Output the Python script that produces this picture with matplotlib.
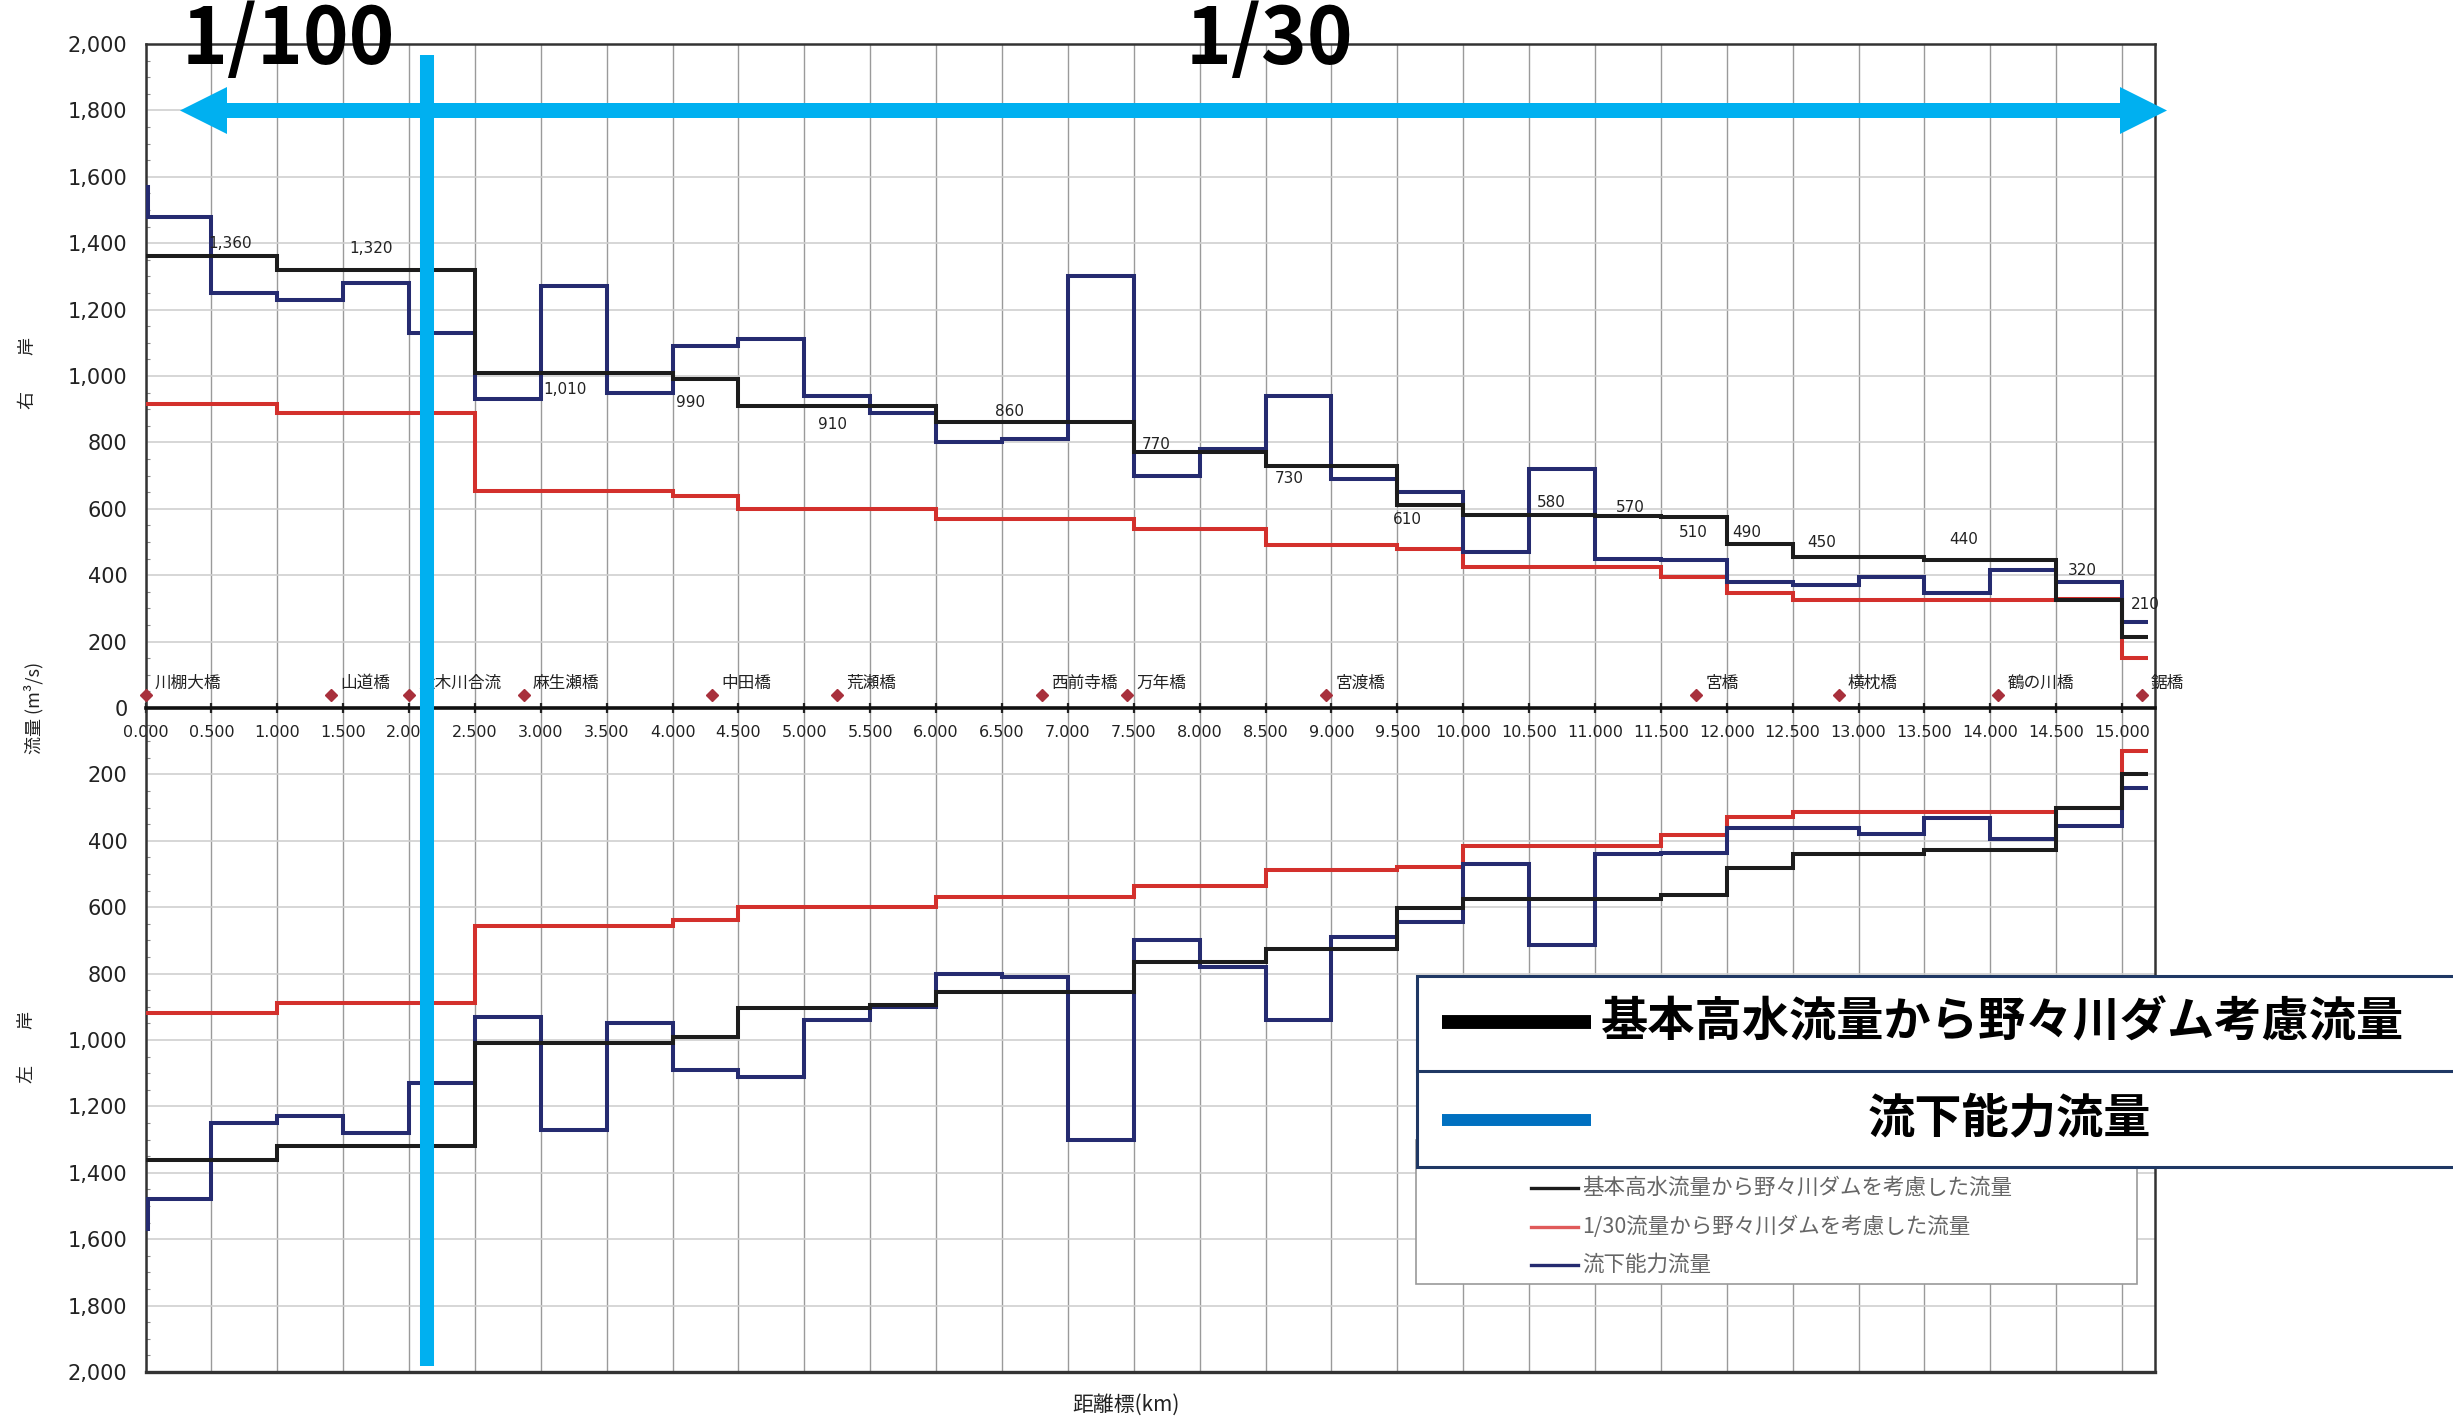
import matplotlib
matplotlib.use("Agg")
import matplotlib.pyplot as plt
import matplotlib.ticker as mticker
from matplotlib.patches import Polygon, Rectangle
from matplotlib.lines import Line2D
from matplotlib.transforms import Affine2D
import numpy as np

W, H, DPI = 2453, 1422, 100
JP = ["Noto Sans CJK JP", "DejaVu Sans"]

# ---------------- data (km edges / discharge m3/s) ----------------
# 右岸 (upper half)
right_black_edges = [0.0, 1.0, 2.5, 4.0, 4.5, 6.0, 7.5, 8.5, 9.5, 10.0, 11.0, 11.5,
                     12.0, 12.5, 13.5, 14.5, 15.0, 15.2]
right_black_q = [1360, 1320, 1010, 990, 910, 860, 770, 730, 610, 580, 578, 575,
                 495, 455, 445, 325, 215]

blue_edges = [0.0, 0.02, 0.5, 1.0, 1.5, 2.0, 2.5, 3.0, 3.5, 4.0, 4.5, 5.0, 5.5, 6.0,
              6.5, 7.0, 7.5, 8.0, 8.5, 9.0, 9.5, 10.0, 10.5, 11.0, 11.5, 12.0, 12.5,
              13.0, 13.5, 14.0, 14.5, 15.0, 15.2]
right_blue_q = [1570, 1480, 1250, 1230, 1280, 1130, 930, 1270, 950, 1090, 1110, 940,
                890, 800, 810, 1300, 700, 780, 940, 690, 650, 470, 720, 450, 445, 380,
                370, 395, 345, 415, 380, 260]

red_edges = [0.0, 1.0, 2.5, 4.0, 4.5, 6.0, 7.5, 8.5, 9.5, 10.0, 11.5, 12.0, 12.5,
             14.5, 15.0, 15.2]
right_red_q = [915, 890, 655, 640, 600, 570, 540, 490, 480, 425, 395, 345, 325, 328, 150]

# 左岸 (lower half)
left_black_edges = [0.0, 1.0, 2.5, 4.0, 4.5, 5.5, 6.0, 7.5, 8.5, 9.5, 10.0, 11.5,
                    12.0, 12.5, 13.5, 14.5, 15.0, 15.2]
left_black_q = [1360, 1320, 1010, 990, 905, 895, 856, 765, 725, 603, 575, 563,
                482, 439, 429, 302, 198]
left_blue_q = [1570, 1480, 1250, 1230, 1280, 1130, 930, 1270, 950, 1090, 1110, 940,
               900, 800, 810, 1300, 700, 780, 940, 690, 645, 470, 715, 440, 437, 362,
               362, 380, 330, 396, 356, 240]
left_red_q = [920, 890, 658, 640, 600, 568, 537, 488, 478, 417, 382, 329, 312, 302, 130]

# black-line value labels (text, km, q)
value_labels = ["1,360", "1,320", "1,010", "990", "910", "860", "770", "730", "610",
                "580", "570", "510", "490", "450", "440", "320", "210"]
value_label_km = [0.64, 1.71, 3.18, 4.14, 5.21, 6.56, 7.67, 8.68, 9.58, 10.67, 11.27,
                  11.75, 12.15, 12.72, 13.80, 14.70, 15.18]
value_label_q = [1398, 1383, 959, 919, 854, 892, 794, 692, 567, 618, 603, 528, 528,
                 498, 508, 413, 313]

# bridges / landmarks
bridge_names = ["川棚大橋", "山道橋", "大木川合流", "麻生瀬橋", "中田橋", "荒瀬橋",
                "西前寺橋", "万年橋", "宮渡橋", "宮橋", "横枕橋", "鶴の川橋", "鋸橋"]
bridge_km = [0.0, 1.41, 2.0, 2.87, 4.30, 5.25, 6.80, 7.45, 8.96, 11.77, 12.85, 14.06, 15.15]

# ---------------- figure ----------------
fig = plt.figure(figsize=(W / DPI, H / DPI), dpi=DPI)
fig.patch.set_facecolor("white")
L, R, T, B = 145.5, 2155, 44, 1372
ax = fig.add_axes([L / W, 1 - B / H, (R - L) / W, (B - T) / H])
ax.set_xlim(0, 15.25)
ax.set_ylim(-2000, 2000)

C_BLACK, C_BLUE, C_RED = "#1c1c1c", "#252b70", "#d3302c"
LW = 2.9
ax.stairs(right_red_q, red_edges, baseline=None, color=C_RED, lw=LW, zorder=3)
ax.stairs(right_blue_q, blue_edges, baseline=None, color=C_BLUE, lw=LW, zorder=4)
ax.stairs(right_black_q, right_black_edges, baseline=None, color=C_BLACK, lw=LW, zorder=5)
ax.stairs(-np.array(left_red_q), red_edges, baseline=None, color=C_RED, lw=LW, zorder=3)
ax.stairs(-np.array(left_blue_q), blue_edges, baseline=None, color=C_BLUE, lw=LW, zorder=4)
ax.stairs(-np.array(left_black_q), left_black_edges, baseline=None, color=C_BLACK, lw=LW, zorder=5)

# grid
ax.xaxis.set_major_locator(mticker.MultipleLocator(0.5))
ax.yaxis.set_major_locator(mticker.MultipleLocator(200))
ax.yaxis.set_minor_locator(mticker.MultipleLocator(50))
ax.grid(axis="x", color="#9a9a9a", lw=1.0, zorder=0)
ax.grid(axis="y", color="#cfcfcf", lw=1.2, zorder=0)
ax.set_axisbelow(True)

# spines
ax.spines["bottom"].set_position(("data", 0))
ax.spines["bottom"].set_linewidth(2.6)
ax.spines["bottom"].set_color("#111111")
for s in ["left", "top", "right"]:
    ax.spines[s].set_linewidth(1.8)
    ax.spines[s].set_color("#333333")
ax.axhline(-2000, color="#333333", lw=2.4, clip_on=False, zorder=6)

ax.xaxis.set_major_formatter(mticker.FuncFormatter(lambda v, p: f"{v:.3f}"))
ax.yaxis.set_major_formatter(mticker.FuncFormatter(lambda v, p: f"{abs(v):,.0f}"))
ax.tick_params(axis="x", which="major", direction="inout", length=7, width=1.6,
               labelsize=11.5, pad=9, colors="#222222")
ax.tick_params(axis="y", which="major", length=0, labelsize=15, pad=13, colors="#222222")
ax.tick_params(axis="y", which="minor", direction="in", length=3, width=0.8, color="#888888")

# value labels
for t, xk, q in zip(value_labels, value_label_km, value_label_q):
    ax.text(xk, q, t, fontsize=11, ha="center", va="center", color="#222222", zorder=7)

# bridges
ax.plot(bridge_km, [40] * len(bridge_km), "D", color="#a8303c", ms=6, zorder=7, clip_on=False)
for name, xk in zip(bridge_names, bridge_km):
    ax.text(xk + 0.07, 75, name, fontsize=12, family=JP, ha="left", va="center",
            color="#222222", zorder=7)

# ---------------- figure-pixel overlays ----------------
pix = Affine2D().scale(1 / W, -1 / H).translate(0, 1) + fig.transFigure

fig.text(28, 373, "右　　岸", transform=pix, rotation=90, fontsize=13, family=JP,
         ha="center", va="center", color="#222222")
fig.text(34, 708, "流量 (m³/s)", transform=pix, rotation=90, fontsize=13, family=JP,
         ha="center", va="center", color="#222222")
fig.text(27, 1047, "左　　岸", transform=pix, rotation=90, fontsize=13, family=JP,
         ha="center", va="center", color="#222222")
fig.text(1126, 1405, "距離標(km)", transform=pix, fontsize=15, family=JP,
         ha="center", va="center", color="#222222")

CYAN = "#00B0F0"
fig.add_artist(Line2D([427, 427], [55, 1366], transform=pix, lw=10.1, color=CYAN,
                      solid_capstyle="butt", zorder=20))
arrow = Polygon([(180, 110.5), (227, 87), (227, 103), (2120, 103), (2120, 87),
                 (2167, 110.5), (2120, 134), (2120, 118), (227, 118), (227, 134)],
                closed=True, transform=pix, facecolor=CYAN, edgecolor="none", zorder=21)
fig.add_artist(arrow)

fig.text(288, 64, "1/100", transform=pix, fontsize=56, fontweight="bold", family=JP,
         ha="center", va="baseline", color="black", zorder=22)
fig.text(1269, 64, "1/30", transform=pix, fontsize=56, fontweight="bold", family=JP,
         ha="center", va="baseline", color="black", zorder=22)

# original (small) legend
fig.add_artist(Rectangle((1416, 1140), 721, 144, transform=pix, facecolor="white",
                         edgecolor="#9a9a9a", lw=1.2, zorder=15))
small_items = [("基本高水流量から野々川ダムを考慮した流量", C_BLACK, 1188),
               ("1/30流量から野々川ダムを考慮した流量", "#e05a5a", 1227),
               ("流下能力流量", C_BLUE, 1265)]
for txt, col, yy in small_items:
    fig.add_artist(Line2D([1531, 1578], [yy, yy], transform=pix, lw=2.4, color=col,
                          zorder=16))
    fig.text(1582, yy, txt, transform=pix, fontsize=15.5, family=JP, ha="left",
             va="center", color="#666666", zorder=16)

# overlaid big legend
NAVY = "#1f3864"
fig.add_artist(Rectangle((1417, 976), 1060, 191, transform=pix, facecolor="white",
                         edgecolor=NAVY, lw=2.2, zorder=30))
fig.add_artist(Line2D([1417, 2470], [1071, 1071], transform=pix, lw=2.2, color=NAVY,
                      zorder=31))
fig.add_artist(Line2D([1442, 1591], [1022, 1022], transform=pix, lw=10, color="black",
                      solid_capstyle="butt", zorder=31))
fig.add_artist(Line2D([1442, 1591], [1120, 1120], transform=pix, lw=8.6, color="#0070C0",
                      solid_capstyle="butt", zorder=31))
fig.text(1601, 1022, "基本高水流量から野々川ダム考慮流量", transform=pix, fontsize=34,
         fontweight="bold", family=JP, ha="left", va="center", color="black", zorder=32)
fig.text(2009, 1118, "流下能力流量", transform=pix, fontsize=34, fontweight="bold",
         family=JP, ha="center", va="center", color="black", zorder=32)

fig.savefig("out.png", dpi=DPI, facecolor="white")
